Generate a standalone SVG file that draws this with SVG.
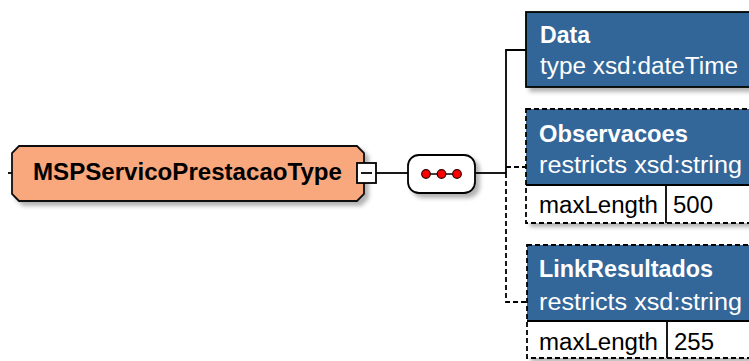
<svg xmlns="http://www.w3.org/2000/svg" width="749" height="361" viewBox="0 0 749 361">
<defs>
<filter id="sh" x="-10%" y="-20%" width="130%" height="160%">
<feDropShadow dx="4" dy="4" stdDeviation="2" flood-color="#000" flood-opacity="0.3"/>
</filter>
<style>
.ln{stroke:#000;stroke-width:1.8;fill:none}
.dl{stroke:#000;stroke-width:1.8;fill:none;stroke-dasharray:5,3}
.hd{fill:#336699}
.t{font-family:"Liberation Sans",Arial,sans-serif;font-size:23px}
.tb{font-family:"Liberation Sans",Arial,sans-serif;font-size:23px;font-weight:bold}
.w{fill:#fff}
.k{fill:#000}
</style>
</defs>
<rect width="749" height="361" fill="#fff"/>
<g id="connectors">
<line class="ln" x1="8" y1="173" x2="12" y2="173"/>
<line class="ln" x1="376" y1="173" x2="408" y2="173"/>
<line class="ln" x1="475" y1="173" x2="506" y2="173"/>
<polyline class="ln" points="526,50 506,50 506,173"/>
<polyline class="dl" points="506,173 506,302 526,302"/>
<line class="dl" x1="506" y1="167" x2="526" y2="167"/>
</g>
<g id="MSPServicoPrestacaoType">
<polygon points="19,146 357,146 364,153 364,194 357,201 19,201 12,194 12,153" fill="#F9A77B" stroke="#111" stroke-width="1.8" filter="url(#sh)"/>
<text class="tb k" x="33" y="180" font-size="24" textLength="309" lengthAdjust="spacingAndGlyphs">MSPServicoPrestacaoType</text>
<rect x="357" y="163" width="19" height="20" fill="#fff" stroke="#000" stroke-width="1.8"/>
<line x1="361" y1="173" x2="372" y2="173" stroke="#000" stroke-width="1.8"/>
</g>
<g id="sequence">
<rect x="408" y="155" width="67" height="38" rx="11" fill="#fff" stroke="#000" stroke-width="1.8" filter="url(#sh)"/>
<line x1="426" y1="174" x2="457" y2="174" stroke="#000" stroke-width="1.5"/>
<circle cx="426" cy="174" r="4.3" fill="#f00" stroke="#300" stroke-width="1.2"/>
<circle cx="441.5" cy="174" r="4.3" fill="#f00" stroke="#300" stroke-width="1.2"/>
<circle cx="457" cy="174" r="4.3" fill="#f00" stroke="#300" stroke-width="1.2"/>
</g>
<g id="Data">
<rect class="hd" x="526" y="12" width="240" height="75" stroke="#000" stroke-width="1.8" filter="url(#sh)"/>
<text class="tb w" x="540" y="43" textLength="50" lengthAdjust="spacingAndGlyphs">Data</text>
<text class="t w" x="540" y="74" textLength="198" lengthAdjust="spacingAndGlyphs">type xsd:dateTime</text>
</g>
<g id="Observacoes">
<rect x="526" y="109" width="240" height="114" fill="#fff" stroke="none" filter="url(#sh)"/>
<rect class="hd" x="526" y="109" width="240" height="76"/>
<line class="ln" x1="526" y1="185" x2="749" y2="185"/>
<line class="ln" x1="666" y1="185" x2="666" y2="223"/>
<rect class="dl" x="526" y="109" width="240" height="114"/>
<text class="tb w" x="539" y="142" textLength="149" lengthAdjust="spacingAndGlyphs">Observacoes</text>
<text class="t w" x="539" y="173" textLength="203" lengthAdjust="spacingAndGlyphs">restricts xsd:string</text>
<text class="t k" x="539" y="213" textLength="119" lengthAdjust="spacingAndGlyphs">maxLength</text>
<text class="t k" x="673" y="213" textLength="40" lengthAdjust="spacingAndGlyphs">500</text>
</g>
<g id="LinkResultados">
<rect x="527" y="245" width="240" height="113" fill="#fff" stroke="none" filter="url(#sh)"/>
<rect class="hd" x="527" y="245" width="240" height="76"/>
<line class="ln" x1="527" y1="321" x2="749" y2="321"/>
<line class="ln" x1="667" y1="321" x2="667" y2="358"/>
<rect class="dl" x="527" y="245" width="240" height="113"/>
<text class="tb w" x="539" y="277" textLength="174" lengthAdjust="spacingAndGlyphs">LinkResultados</text>
<text class="t w" x="539" y="310" textLength="203" lengthAdjust="spacingAndGlyphs">restricts xsd:string</text>
<text class="t k" x="539" y="350" textLength="119" lengthAdjust="spacingAndGlyphs">maxLength</text>
<text class="t k" x="674" y="350" textLength="40" lengthAdjust="spacingAndGlyphs">255</text>
</g>
</svg>
